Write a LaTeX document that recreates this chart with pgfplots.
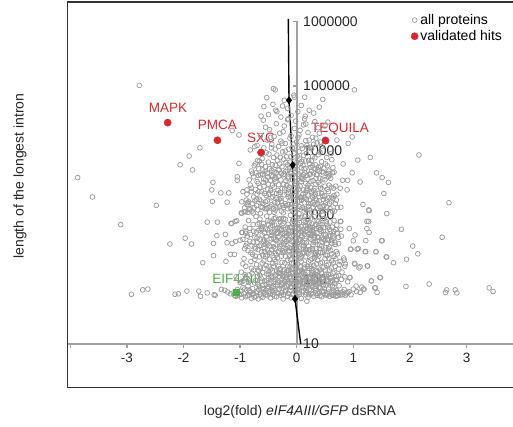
\documentclass[border=0pt]{standalone}
\usepackage{pgfplots}
\pgfplotsset{compat=1.18}
\usepackage{fontspec}
\setmainfont{Liberation Sans}
\definecolor{ptgrey}{HTML}{9C9C9C}
\definecolor{hitred}{HTML}{D42A2F}
\definecolor{eifgreen}{HTML}{4DAF4A}
\definecolor{axgrey}{HTML}{A0A0A0}
\definecolor{framec}{HTML}{333333}

\pgfplotstableread[row sep=\\]{
x y\\
-1.12 62\\ -1.08 55\\ -1.05 70\\ -1.02 58\\ -0.99 66\\ -0.97 52\\ -0.95 75\\ -0.93 60\\ -0.90 54\\ -0.88 68\\
-0.86 80\\ -0.84 57\\ -0.82 63\\ -0.80 51\\ -0.78 72\\ -0.76 60\\ -0.74 88\\ -0.72 55\\ -0.70 66\\ -0.68 50\\
-0.66 78\\ -0.64 59\\ -0.62 94\\ -0.60 53\\ -0.58 70\\ -0.56 62\\ -0.54 84\\ -0.52 56\\ -0.50 104\\ -0.48 65\\
-0.46 52\\ -0.44 76\\ -0.42 58\\ -0.40 92\\ -0.38 68\\ -0.36 54\\ -0.34 83\\ -0.32 61\\ -0.30 110\\ -0.28 57\\
-0.26 73\\ -0.24 50\\ -0.22 96\\ -0.20 64\\ -0.18 79\\ -0.16 55\\ -0.14 120\\ -0.12 68\\ -0.10 52\\ -0.08 87\\
-0.06 60\\ -0.04 105\\ -0.02 72\\ 0.00 56\\ 0.02 90\\ 0.04 63\\ 0.06 115\\ 0.08 51\\ 0.10 77\\ 0.12 66\\
0.14 98\\ 0.16 58\\ 0.18 84\\ 0.20 53\\ 0.22 70\\ 0.24 108\\ 0.26 61\\ 0.28 80\\ 0.30 55\\ 0.32 92\\
0.34 67\\ 0.36 57\\ 0.38 86\\ 0.40 62\\ 0.42 74\\ 0.44 54\\ 0.46 100\\ 0.48 65\\ 0.50 58\\ 0.52 82\\
0.54 60\\ 0.56 71\\ 0.58 55\\ 0.60 90\\ 0.62 63\\ 0.64 57\\ 0.66 76\\ 0.68 60\\ 0.70 68\\ 0.72 56\\
0.75 80\\ 0.78 62\\ 0.81 58\\ 0.84 70\\ 0.88 60\\ 0.92 65\\ 0.96 58\\
-1.10 57\\ -1.04 64\\ -0.98 59\\ -0.92 71\\ -0.87 56\\ -0.83 67\\ -0.79 59\\ -0.75 53\\ -0.71 62\\ -0.67 70\\
-0.63 55\\ -0.59 64\\ -0.55 58\\ -0.51 73\\ -0.47 60\\ -0.43 66\\ -0.39 55\\ -0.35 63\\ -0.31 71\\ -0.27 62\\
-0.23 58\\ -0.19 68\\ -0.15 61\\ -0.11 76\\ -0.07 58\\ -0.03 64\\ 0.01 70\\ 0.05 59\\ 0.09 65\\ 0.13 74\\
0.17 62\\ 0.21 58\\ 0.25 67\\ 0.29 60\\ 0.33 73\\ 0.37 61\\ 0.41 56\\ 0.45 66\\ 0.49 72\\ 0.53 57\\
0.57 64\\ 0.61 59\\ 0.65 68\\ 0.69 55\\ 0.73 63\\ 0.77 57\\ 0.82 64\\ 0.86 57\\ 0.90 62\\
-0.60 82\\ -0.50 78\\ -0.45 88\\ -0.40 72\\ -0.33 95\\ -0.29 80\\ -0.25 88\\ -0.21 76\\ -0.17 100\\ -0.13 90\\
-0.09 95\\ -0.05 82\\ -0.01 98\\ 0.03 80\\ 0.07 94\\ 0.11 86\\ 0.15 78\\ 0.19 97\\ 0.23 85\\ 0.27 95\\
0.31 78\\ 0.35 100\\ 0.39 75\\ 0.43 88\\ 0.47 80\\ 0.55 92\\ 0.63 80\\
-0.98 130\\ -0.93 210\\ -0.90 160\\ -0.86 280\\ -0.84 118\\ -0.81 190\\ -0.78 245\\ -0.76 140\\ -0.73 300\\ -0.71 170\\
-0.69 112\\ -0.66 225\\ -0.64 150\\ -0.62 270\\ -0.60 128\\ -0.58 195\\ -0.56 310\\ -0.54 165\\ -0.52 240\\ -0.50 120\\
-0.48 205\\ -0.46 145\\ -0.44 290\\ -0.42 178\\ -0.40 110\\ -0.38 255\\ -0.36 135\\ -0.34 215\\ -0.32 160\\ -0.30 300\\
-0.28 122\\ -0.26 185\\ -0.24 260\\ -0.22 142\\ -0.20 230\\ -0.18 108\\ -0.16 198\\ -0.14 280\\ -0.12 155\\ -0.10 125\\
-0.08 245\\ -0.06 175\\ -0.04 305\\ -0.02 138\\ 0.00 212\\ 0.02 115\\ 0.04 268\\ 0.06 158\\ 0.08 190\\ 0.10 132\\
0.12 295\\ 0.14 170\\ 0.16 225\\ 0.18 112\\ 0.20 250\\ 0.22 148\\ 0.24 200\\ 0.26 128\\ 0.28 285\\ 0.30 165\\
0.32 218\\ 0.34 118\\ 0.36 240\\ 0.38 150\\ 0.40 305\\ 0.42 180\\ 0.44 130\\ 0.46 262\\ 0.48 155\\ 0.50 210\\
0.52 120\\ 0.54 235\\ 0.56 172\\ 0.58 140\\ 0.60 280\\ 0.62 195\\ 0.64 125\\ 0.66 228\\ 0.68 160\\ 0.70 112\\
0.72 250\\ 0.74 145\\ 0.77 190\\ 0.80 130\\ 0.83 215\\
-0.95 175\\ -0.88 105\\ -0.80 150\\ -0.74 205\\ -0.67 135\\ -0.61 180\\ -0.55 230\\ -0.49 160\\ -0.43 135\\ -0.37 190\\
-0.31 145\\ -0.27 230\\ -0.21 180\\ -0.15 140\\ -0.11 205\\ -0.07 150\\ -0.03 240\\ 0.01 170\\ 0.05 135\\ 0.09 230\\
0.13 145\\ 0.17 275\\ 0.21 188\\ 0.25 160\\ 0.29 135\\ 0.33 260\\ 0.37 200\\ 0.41 140\\ 0.45 185\\ 0.49 285\\
0.53 165\\ 0.57 210\\ 0.61 150\\ 0.65 180\\ 0.69 210\\ 0.75 170\\ 0.85 160\\
-0.45 250\\ -0.39 205\\ -0.33 270\\ -0.25 115\\ -0.19 300\\ -0.13 230\\ -0.09 180\\ -0.01 270\\ 0.07 210\\ 0.11 255\\
0.15 120\\ 0.19 160\\ 0.23 290\\ 0.27 210\\ 0.31 250\\ 0.35 175\\ 0.39 230\\
-0.95 420\\ -0.91 650\\ -0.88 360\\ -0.85 820\\ -0.82 500\\ -0.79 330\\ -0.77 710\\ -0.74 450\\ -0.72 950\\ -0.70 380\\
-0.67 580\\ -0.65 860\\ -0.63 340\\ -0.61 490\\ -0.59 740\\ -0.57 410\\ -0.55 620\\ -0.53 960\\ -0.51 355\\ -0.49 530\\
-0.47 800\\ -0.45 430\\ -0.43 690\\ -0.41 320\\ -0.39 560\\ -0.37 900\\ -0.35 400\\ -0.33 640\\ -0.31 470\\ -0.29 780\\
-0.27 345\\ -0.25 520\\ -0.23 880\\ -0.21 420\\ -0.19 600\\ -0.17 330\\ -0.15 720\\ -0.13 480\\ -0.11 990\\ -0.09 390\\
-0.07 570\\ -0.05 840\\ -0.03 440\\ -0.01 660\\ 0.01 350\\ 0.03 510\\ 0.05 760\\ 0.07 410\\ 0.09 920\\ 0.11 560\\
0.13 370\\ 0.15 680\\ 0.17 460\\ 0.19 850\\ 0.21 330\\ 0.23 600\\ 0.25 420\\ 0.27 730\\ 0.29 510\\ 0.31 940\\
0.33 380\\ 0.35 620\\ 0.37 450\\ 0.39 800\\ 0.41 340\\ 0.43 560\\ 0.45 700\\ 0.47 420\\ 0.49 880\\ 0.51 500\\
0.53 360\\ 0.55 650\\ 0.57 470\\ 0.59 780\\ 0.62 400\\ 0.65 560\\ 0.68 350\\ 0.71 700\\ 0.74 450\\ 0.78 600\\
-0.90 520\\ -0.83 390\\ -0.76 560\\ -0.69 720\\ -0.62 600\\ -0.56 350\\ -0.50 700\\ -0.44 540\\ -0.38 420\\ -0.32 860\\
-0.28 580\\ -0.22 360\\ -0.18 470\\ -0.12 640\\ -0.08 750\\ -0.04 540\\ 0.00 920\\ 0.04 620\\ 0.08 480\\ 0.12 820\\
0.16 560\\ 0.20 700\\ 0.24 520\\ 0.28 640\\ 0.32 480\\ 0.36 820\\ 0.40 590\\ 0.44 450\\ 0.48 640\\ 0.52 790\\
0.56 410\\ 0.60 560\\ 0.66 820\\ 0.72 520\\
-0.42 800\\ -0.34 530\\ -0.26 700\\ -0.20 860\\ -0.14 580\\ -0.06 380\\ -0.02 480\\ 0.02 720\\ 0.10 380\\ 0.14 950\\
0.18 620\\ 0.22 440\\ 0.26 900\\ 0.30 380\\ 0.34 720\\
-0.92 1300\\ -0.88 2100\\ -0.85 1600\\ -0.82 2900\\ -0.79 1150\\ -0.76 1900\\ -0.73 2500\\ -0.71 1400\\ -0.68 3100\\ -0.66 1750\\
-0.64 1050\\ -0.62 2300\\ -0.60 1500\\ -0.58 2800\\ -0.56 1250\\ -0.54 2000\\ -0.52 1650\\ -0.50 3000\\ -0.48 1100\\ -0.46 2400\\
-0.44 1450\\ -0.42 1900\\ -0.40 2700\\ -0.38 1200\\ -0.36 2150\\ -0.34 1550\\ -0.32 2950\\ -0.30 1350\\ -0.28 1800\\ -0.26 2550\\
-0.24 1080\\ -0.22 2050\\ -0.20 1500\\ -0.18 2850\\ -0.16 1250\\ -0.14 2250\\ -0.12 1700\\ -0.10 3050\\ -0.08 1150\\ -0.06 1950\\
-0.04 2600\\ -0.02 1400\\ 0.00 2300\\ 0.02 1600\\ 0.04 1050\\ 0.06 2800\\ 0.08 1850\\ 0.10 1300\\ 0.12 2450\\ 0.14 1550\\
0.16 3100\\ 0.18 1200\\ 0.20 2050\\ 0.22 1700\\ 0.24 2700\\ 0.26 1100\\ 0.28 1900\\ 0.30 2400\\ 0.32 1450\\ 0.34 3000\\
0.36 1250\\ 0.38 2150\\ 0.40 1650\\ 0.42 2600\\ 0.44 1150\\ 0.46 1950\\ 0.48 1400\\ 0.50 2800\\ 0.53 1700\\ 0.56 2300\\
0.59 1250\\ 0.62 1900\\ 0.65 2600\\ 0.68 1500\\ 0.71 2100\\
-0.86 1100\\ -0.78 1500\\ -0.70 2100\\ -0.63 1650\\ -0.57 2150\\ -0.51 1300\\ -0.45 1850\\ -0.39 1550\\ -0.33 2400\\ -0.27 1150\\
-0.21 2550\\ -0.15 1900\\ -0.09 1450\\ -0.03 2000\\ 0.03 2500\\ 0.09 1700\\ 0.15 2200\\ 0.21 1350\\ 0.27 2300\\ 0.33 1800\\
0.39 1100\\ 0.45 2500\\ 0.51 1550\\ 0.57 1850\\ 0.63 1150\\
-0.41 1250\\ -0.35 1850\\ -0.25 1400\\ -0.17 2100\\ -0.11 1300\\ -0.05 1650\\ 0.01 1250\\ 0.07 1900\\ 0.13 1150\\ 0.19 2600\\
0.25 1500\\ 0.31 1950\\
-0.84 3500\\ -0.80 4800\\ -0.76 3900\\ -0.73 6200\\ -0.70 3300\\ -0.67 5200\\ -0.64 4200\\ -0.61 7500\\ -0.58 3600\\ -0.55 5600\\
-0.52 4400\\ -0.49 8800\\ -0.46 3400\\ -0.43 6000\\ -0.40 4600\\ -0.37 3800\\ -0.34 7000\\ -0.31 5000\\ -0.28 3500\\ -0.25 9500\\
-0.22 4300\\ -0.19 6500\\ -0.16 3700\\ -0.13 5400\\ -0.10 8000\\ -0.07 4100\\ -0.04 6800\\ -0.01 3300\\ 0.02 5000\\ 0.05 7400\\
0.08 3900\\ 0.11 5900\\ 0.14 4500\\ 0.17 9000\\ 0.20 3600\\ 0.23 6200\\ 0.26 4800\\ 0.29 3400\\ 0.32 7700\\ 0.35 4200\\
0.38 5500\\ 0.41 3700\\ 0.44 6700\\ 0.47 4500\\ 0.50 3500\\ 0.54 5800\\ 0.58 4100\\ 0.62 7200\\ 0.66 4600\\
-0.78 4400\\ -0.69 7000\\ -0.60 5000\\ -0.51 3900\\ -0.44 4900\\ -0.38 5900\\ -0.32 4000\\ -0.26 5600\\ -0.20 4700\\ -0.14 3900\\
-0.08 5600\\ -0.02 4800\\ 0.04 4000\\ 0.10 3700\\ 0.16 5300\\ 0.22 4300\\ 0.28 5800\\ 0.34 3700\\ 0.40 4800\\ 0.46 3600\\
0.52 4400\\ 0.60 3700\\
-0.35 8500\\ -0.18 8000\\ -0.05 9000\\ 0.07 6300\\ 0.12 8400\\ 0.26 7000\\ 0.38 8600\\
-0.70 12000\\ -0.64 17000\\ -0.58 11000\\ -0.52 14500\\ -0.48 21000\\ -0.44 12500\\ -0.40 16500\\ -0.36 26000\\ -0.32 11500\\ -0.28 14000\\
-0.24 19500\\ -0.20 12800\\ -0.16 30000\\ -0.12 15500\\ -0.08 11000\\ -0.04 22000\\ 0.00 13500\\ 0.04 17500\\ 0.08 11800\\ 0.12 25000\\
0.16 14200\\ 0.20 19000\\ 0.24 11200\\ 0.28 16000\\ 0.32 28000\\ 0.36 13000\\ 0.40 18500\\ 0.44 11500\\ 0.50 15000\\
-0.55 23000\\ -0.46 16000\\ -0.30 18500\\ -0.22 24000\\ -0.10 17000\\ -0.02 28500\\ 0.06 20500\\ 0.14 31000\\ 0.22 14500\\ 0.30 12500\\
0.38 22500\\
-0.50 36000\\ -0.42 52000\\ -0.35 40000\\ -0.28 33000\\ -0.22 60000\\ -0.16 45000\\ -0.10 35000\\ -0.05 72000\\ 0.02 40000\\ 0.08 50000\\
0.15 34000\\ 0.22 42000\\ 0.30 38000\\ 0.40 47000\\
-2.78 102000\\ -3.87 3800\\ -3.61 1900\\ -2.06 6000\\ -1.90 8200\\ -1.84 5000\\ -1.71 11000\\ -1.48 3200\\ -1.50 2450\\ -1.34 2200\\
-1.20 2200\\ -1.02 6300\\ -1.02 17400\\ -1.14 20400\\ -1.05 3900\\ -1.05 3450\\ -0.95 2300\\ -0.88 2450\\ -0.82 10200\\ -0.74 11500\\
-0.53 66000\\ -0.63 34000\\ -0.59 29500\\ -0.41 91000\\ -0.38 87000\\ -0.37 42000\\ -0.25 49000\\ -0.15 31000\\ 1.02 87000\\ 0.46 62000\\
0.14 67000\\ -0.04 67000\\ -0.58 48000\\ 0.55 27500\\ 0.50 24000\\ 0.16 25700\\ 0.91 12900\\ 0.98 16200\\ 0.71 14500\\ 1.30 7800\\
1.08 7100\\ 2.16 8500\\ 1.51 3800\\ 1.62 3200\\ 1.54 2150\\ 0.90 3450\\ 0.81 3450\\ 0.82 6200\\ 0.98 4500\\ 0.63 4500\\
0.56 4400\\ 0.77 2600\\ 0.89 2450\\ 1.12 3250\\ 1.41 4500\\ 1.59 1050\\ 1.28 1170\\ 2.69 1550\\ 1.85 600\\ 2.57 450\\
2.05 330\\ 2.14 250\\ 1.94 205\\ 1.71 182\\ 1.58 224\\ 1.51 400\\ 1.40 270\\ 1.22 400\\ 1.21 270\\ 1.25 162\\
1.10 151\\ 1.07 295\\ 0.95 295\\ 1.02 178\\ 0.86 174\\ 0.84 200\\ 1.32 95\\ 1.48 107\\ 1.39 74\\ 1.42 63\\
1.19 71\\ 1.15 76\\ 1.12 63\\ 0.94 107\\ 1.05 79\\ 1.93 78\\ 2.34 85\\ 2.65 69\\ 2.63 63\\ 2.80 69\\
2.83 62\\ 3.40 74\\ 3.47 65\\ 1.27 795\\ 0.77 795\\ 1.24 617\\ 0.70 100\\ 0.72 63\\ 0.18 46\\
-2.48 1410\\ -3.11 710\\ -2.92 59\\ -2.72 69\\ -2.63 71\\ -2.15 59\\ -2.09 60\\ -1.94 66\\ -1.73 66\\ -1.70 55\\
-1.58 62\\ -1.46 58\\ -1.44 57\\ -1.27 68\\ -2.24 355\\ -1.97 437\\ -1.86 355\\ -1.66 182\\ -1.58 776\\ -1.40 776\\
-1.49 1620\\ -1.47 363\\ -1.47 234\\ -1.41 479\\ -1.26 501\\ -1.25 191\\ -1.17 245\\ -1.10 245\\ -1.16 741\\ -1.09 794\\
-0.98 1070\\ -0.93 1120\\ -0.97 537\\ -0.90 330\\ -0.85 90\\ -0.95 95\\ -1.17 60\\ -1.22 64\\ -1.05 56\\ -1.33 70\\
-1.00 90\\ -1.07 110\\ -1.23 372\\ -1.14 363\\ -1.08 389\\ -1.00 407\\ -0.96 537\\ -0.90 562\\ -1.15 741\\ -1.06 813\\
-0.97 1070\\ -0.91 1120\\ -0.83 1200\\ -0.77 1070\\ -1.23 1580\\ -0.97 1600\\ -0.87 1550\\
0.78 1320\\ 1.17 1450\\ 1.27 1200\\ 1.24 795\\ 1.28 537\\ 0.93 617\\ 0.78 795\\ 1.03 490\\ 1.00 398\\ 1.50 398\\
0.96 295\\ 1.09 302\\ 1.22 270\\ 1.40 269\\ 1.59 224\\ 1.03 174\\ 1.12 158\\ 1.25 162\\ 0.94 107\\ 1.32 95\\
1.47 107\\ 1.38 74\\ 1.18 71\\ 1.06 65\\ 1.00 71\\ 0.71 525\\ 0.65 437\\ 0.62 363\\
-0.97 92\\ -0.91 118\\ -0.85 98\\ -0.79 125\\ -0.73 96\\ -0.68 140\\ -0.63 105\\ -0.58 150\\ -0.53 97\\ -0.49 132\\
-0.44 112\\ -0.41 160\\ -0.37 99\\ -0.33 128\\ -0.29 147\\ -0.26 102\\ -0.23 135\\ -0.19 118\\ -0.16 160\\ -0.13 108\\
-0.10 145\\ -0.07 126\\ -0.04 96\\ -0.01 152\\ 0.02 132\\ 0.05 101\\ 0.08 140\\ 0.11 112\\ 0.14 155\\ 0.17 96\\
0.20 128\\ 0.23 104\\ 0.26 148\\ 0.29 115\\ 0.32 100\\ 0.35 138\\ 0.38 110\\ 0.41 95\\ 0.44 125\\ 0.47 106\\
0.50 140\\ 0.53 98\\ 0.56 118\\ 0.59 104\\ 0.62 96\\ 0.66 130\\ 0.70 95\\ 0.74 115\\ 0.79 100\\ 0.85 110\\
0.90 92\\
-0.92 300\\ -0.87 470\\ -0.81 260\\ -0.77 380\\ -0.71 540\\ -0.68 290\\ -0.65 420\\ -0.60 660\\ -0.57 270\\ -0.54 460\\
-0.51 590\\ -0.47 330\\ -0.44 760\\ -0.41 440\\ -0.38 300\\ -0.35 610\\ -0.31 370\\ -0.28 880\\ -0.25 280\\ -0.22 520\\
-0.19 390\\ -0.16 640\\ -0.13 310\\ -0.10 470\\ -0.07 830\\ -0.04 350\\ -0.01 560\\ 0.02 280\\ 0.05 420\\ 0.08 660\\
0.11 320\\ 0.14 500\\ 0.17 370\\ 0.20 900\\ 0.23 290\\ 0.26 480\\ 0.29 350\\ 0.32 680\\ 0.35 300\\ 0.38 450\\
0.41 730\\ 0.44 330\\ 0.47 560\\ 0.50 400\\ 0.53 720\\ 0.56 300\\ 0.60 480\\ 0.63 650\\ 0.67 380\\ 0.70 270\\
0.74 360\\ 0.79 470\\
-0.83 620\\ -0.74 320\\ -0.66 750\\ -0.59 390\\ -0.52 290\\ -0.46 650\\ -0.40 880\\ -0.36 520\\ -0.30 620\\ -0.24 430\\
-0.20 540\\ -0.14 410\\ -0.09 300\\ -0.05 700\\ 0.00 440\\ 0.04 880\\ 0.07 550\\ 0.12 600\\ 0.16 290\\ 0.22 760\\
0.27 570\\ 0.31 450\\ 0.36 530\\ 0.42 600\\ 0.46 880\\ 0.51 310\\ 0.58 600\\ 0.64 470\\ 0.69 590\\
-0.89 1700\\ -0.83 1250\\ -0.80 2300\\ -0.74 1650\\ -0.69 1200\\ -0.65 2700\\ -0.61 1300\\ -0.55 3500\\ -0.53 1250\\ -0.49 2100\\
-0.43 2900\\ -0.40 1100\\ -0.37 3300\\ -0.31 1750\\ -0.29 2250\\ -0.23 1300\\ -0.19 3400\\ -0.15 1450\\ -0.13 2700\\ -0.07 2300\\
-0.05 1100\\ -0.01 3000\\ 0.02 1900\\ 0.05 1350\\ 0.08 3300\\ 0.11 2100\\ 0.14 1250\\ 0.17 1750\\ 0.20 2900\\ 0.23 1200\\
0.26 2200\\ 0.29 1550\\ 0.32 2600\\ 0.35 1700\\ 0.38 3200\\ 0.41 1350\\ 0.44 2150\\ 0.47 1750\\ 0.50 1150\\ 0.54 2500\\
0.58 1500\\ 0.61 2700\\ 0.64 1800\\ 0.67 1150\\ 0.70 1700\\
-0.75 5800\\ -0.68 4100\\ -0.62 6100\\ -0.56 4700\\ -0.50 6600\\ -0.45 4100\\ -0.41 7800\\ -0.36 4500\\ -0.30 6200\\ -0.27 4400\\
-0.23 7300\\ -0.17 5000\\ -0.12 6600\\ -0.09 4600\\ -0.03 5900\\ 0.01 8100\\ 0.03 4300\\ 0.09 6800\\ 0.13 5200\\ 0.18 4100\\
0.21 7000\\ 0.25 5500\\ 0.30 4500\\ 0.33 6000\\ 0.37 5000\\ 0.42 5700\\ 0.48 5300\\ 0.53 7800\\ 0.56 3900\\ 0.64 5400\\
-0.45 11000\\ -0.26 13000\\ -0.14 10500\\ -0.06 12500\\ 0.02 16000\\ 0.10 10800\\ 0.18 12000\\ 0.26 10600\\ 0.34 15500\\ 0.42 13500\\
-0.69 84\\ -0.65 116\\ -0.61 72\\ -0.57 95\\ -0.53 122\\ -0.49 86\\ -0.45 108\\ -0.41 78\\ -0.37 118\\ -0.34 90\\
-0.31 125\\ -0.27 84\\ -0.24 113\\ -0.21 93\\ -0.18 130\\ -0.15 82\\ -0.12 110\\ -0.09 76\\ -0.06 128\\ -0.03 88\\
0.00 118\\ 0.03 100\\ 0.06 84\\ 0.09 122\\ 0.12 92\\ 0.15 112\\ 0.18 76\\ 0.21 105\\ 0.24 88\\ 0.27 120\\
0.30 94\\ 0.33 84\\ 0.36 116\\ 0.40 90\\ 0.44 104\\ 0.48 92\\ 0.52 112\\ 0.57 86\\ 0.61 108\\ 0.67 88\\
-0.73 230\\ -0.70 440\\ -0.66 330\\ -0.63 620\\ -0.60 240\\ -0.57 520\\ -0.54 380\\ -0.51 820\\ -0.48 260\\ -0.45 480\\
-0.42 360\\ -0.39 700\\ -0.36 240\\ -0.33 450\\ -0.30 330\\ -0.27 600\\ -0.24 740\\ -0.21 270\\ -0.18 390\\ -0.15 510\\
-0.12 240\\ -0.09 640\\ -0.06 280\\ -0.03 760\\ 0.00 330\\ 0.03 590\\ 0.06 250\\ 0.09 450\\ 0.12 340\\ 0.15 770\\
0.18 260\\ 0.21 500\\ 0.24 650\\ 0.27 300\\ 0.30 540\\ 0.33 240\\ 0.36 400\\ 0.39 640\\ 0.42 260\\ 0.45 380\\
0.48 500\\ 0.51 240\\ 0.54 420\\ 0.58 320\\ 0.62 250\\
-0.71 1750\\ -0.67 2300\\ -0.63 1350\\ -0.59 3200\\ -0.55 1600\\ -0.51 2500\\ -0.47 1350\\ -0.43 2200\\ -0.39 3600\\ -0.35 1300\\
-0.31 2100\\ -0.27 1650\\ -0.23 3000\\ -0.19 1400\\ -0.15 2500\\ -0.11 1850\\ -0.07 3500\\ -0.03 1300\\ 0.01 2700\\ 0.05 1700\\
0.09 3600\\ 0.13 1850\\ 0.17 2400\\ 0.21 1500\\ 0.25 3300\\ 0.29 1300\\ 0.33 2100\\ 0.37 1500\\ 0.41 3000\\ 0.45 1350\\
0.49 2000\\ 0.53 1300\\ 0.57 2900\\ 0.61 1600\\ 0.66 2000\\ -0.80 2600\\ -0.75 1300\\ 0.69 2800\\ 0.72 1300\\ -0.88 1450\\
-0.66 6800\\ -0.60 4300\\ -0.54 9200\\ -0.48 5200\\ -0.42 4000\\ -0.38 10500\\ -0.33 5000\\ -0.29 7800\\ -0.24 4200\\ -0.20 9800\\
-0.16 6000\\ -0.11 4400\\ -0.07 10800\\ -0.03 4500\\ 0.00 6500\\ 0.04 9600\\ 0.08 5400\\ 0.12 4200\\ 0.16 6900\\ 0.20 11000\\
0.24 4300\\ 0.28 8000\\ 0.32 5200\\ 0.36 4200\\ 0.41 9400\\ 0.45 4700\\ 0.51 6200\\ 0.57 4800\\ 0.61 9000\\ -0.72 4500\\
}\allproteins

\begin{document}
\begin{tikzpicture}[x=1pt,y=1pt]
\useasboundingbox (0,0) rectangle (513,427);
\begin{axis}[
  at={(67.5pt,39.3pt)}, anchor=south west,
  scale only axis, width=445.5pt, height=385.7pt,
  xmin=-4.0495, xmax=3.8216,
  ymode=log, ymin=2.1012, ymax=2004472,
  hide axis, clip=false,
  legend style={draw=none, fill=none, at={(0.764,0.979)}, anchor=north west,
    font=\fontsize{14}{15}\selectfont, row sep=0.5pt},
  legend cell align=left,
]
% axis lines
\draw[axgrey, line width=2pt] (axis cs:-4.0495,10) -- (axis cs:3.83,10);
\pgfplotsinvokeforeach{-4,...,3}{
  \draw[axgrey, line width=1.3pt] (axis cs:#1,10) -- ++(0pt,-4pt);
}
\pgfplotsinvokeforeach{-3,...,3}{
  \node[font=\fontsize{13.5}{15}\selectfont, text=black!85] at (axis cs:#1,10) [yshift=-14pt] {#1};
}
\draw[axgrey, line width=2pt] (axis cs:0,10) -- (axis cs:0,1e6);
\pgfplotsinvokeforeach{2,...,6}{
  \draw[axgrey, line width=1.3pt] (axis cs:0,1e#1) -- ++(-3.5pt,0pt);
}
\node[anchor=west, font=\fontsize{14}{15}\selectfont, text=black!85] at (axis cs:0,1e1) [xshift=3pt] {10};
\node[anchor=west, font=\fontsize{14}{15}\selectfont, text=black!85] at (axis cs:0,1e2) [xshift=3pt] {100};
\node[anchor=west, font=\fontsize{14}{15}\selectfont, text=black!85] at (axis cs:0,1e3) [xshift=3pt] {1000};
\node[anchor=west, font=\fontsize{14}{15}\selectfont, text=black!85] at (axis cs:0,1e4) [xshift=3pt] {10000};
\node[anchor=west, font=\fontsize{14}{15}\selectfont, text=black!85] at (axis cs:0,1e5) [xshift=3pt] {100000};
\node[anchor=west, font=\fontsize{14}{15}\selectfont, text=black!85] at (axis cs:0,1e6) [xshift=3pt] {1000000};

\addplot[only marks, mark=o, mark size=2.4pt, mark options={draw=ptgrey, line width=0.75pt}]
  table[x=x, y=y] {\allproteins};
\addlegendentry{all proteins}
\addplot[only marks, mark=*, mark size=3.6pt, hitred]
  coordinates {(-2.28,27000) (-1.40,14400) (-0.63,9300) (0.51,14200)};
\addlegendentry{validated hits}

\addplot[black, line width=1.4pt, forget plot]
  coordinates {(-0.148,1100000) (-0.136,60000) (-0.071,5950) (-0.030,50) (0.071,10)};
\addplot[only marks, mark=diamond*, mark size=3.6pt, black, forget plot]
  coordinates {(-0.136,60000) (-0.071,5950) (-0.030,50)};
\addplot[only marks, mark=square*, mark size=2.8pt, eifgreen, forget plot]
  coordinates {(-1.07,63)};

\node[hitred, font=\fontsize{13.5}{15}\selectfont] at (axis cs:-2.274,45600) {MAPK};
\node[hitred, font=\fontsize{13.5}{15}\selectfont] at (axis cs:-1.40,24800) {PMCA};
\node[hitred, font=\fontsize{13.5}{15}\selectfont] at (axis cs:-0.631,15600) {SXC};
\node[hitred, font=\fontsize{13.5}{15}\selectfont] at (axis cs:0.765,21500) {TEQUILA};
\node[eifgreen, font=\fontsize{13.5}{15}\selectfont] at (axis cs:-1.06,104) {EIF4AIII};

% frame
\draw[framec, line width=1.6pt] (rel axis cs:1.01,1) -- (rel axis cs:0,1) -- (rel axis cs:0,0) -- (rel axis cs:1.01,0);
\end{axis}
\node[font=\fontsize{14}{16}\selectfont, text=black!85] at (300,15) {log2(fold) \textit{eIF4AIII/GFP} dsRNA};
\node[font=\fontsize{14}{16}\selectfont, text=black!85, rotate=90] at (20,251) {length of the longest intron};
\end{tikzpicture}
\end{document}
